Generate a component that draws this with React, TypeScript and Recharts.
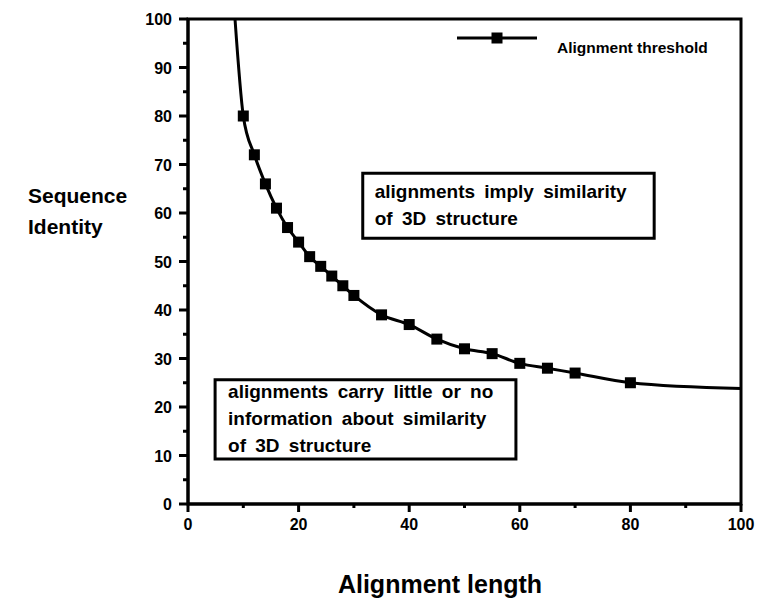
import { LineChart, Line, XAxis, YAxis, ReferenceArea, Legend } from 'recharts';

// alignment length (residues) vs. sequence identity (%) threshold curve
const lengths = [8.5, 10, 12, 14, 16, 18, 20, 22, 24, 26, 28, 30, 35, 40, 45, 50, 55, 60, 65, 70, 80, 100];
const identity = [100, 80, 72, 66, 61, 57, 54, 51, 49, 47, 45, 43, 39, 37, 34, 32, 31, 29, 28, 27, 25, 23.8];

const xTicks = [0, 10, 20, 30, 40, 50, 60, 70, 80, 90, 100];
const xLabels = [0, 20, 40, 60, 80, 100];
const yTicks = [0, 5, 10, 15, 20, 25, 30, 35, 40, 45, 50, 55, 60, 65, 70, 75, 80, 85, 90, 95, 100];
const yLabels = [0, 10, 20, 30, 40, 50, 60, 70, 80, 90, 100];

const upperNote = ['alignments imply similarity', 'of 3D structure'];
const lowerNote = ['alignments carry little or no', 'information about similarity', 'of 3D structure'];

const data = lengths.map((len, i) => ({ len, id: identity[i] }));

const FONT = '"Liberation Sans", Arial, sans-serif';

function Marker({ cx, cy }: { cx: number; cy: number }) {
  return <rect x={cx - 5.5} y={cy - 5.5} width={11} height={11} fill="#000" />;
}

const renderDot = (props: any) => {
  const { cx, cy, index } = props;
  if (index === 0 || index === lengths.length - 1) return <g key={`d${index}`} />;
  return <Marker key={`d${index}`} cx={cx} cy={cy} />;
};

function XTick(props: any) {
  const { x, y, payload } = props;
  const major = xLabels.includes(payload.value);
  return (
    <g>
      <line x1={x} x2={x} y1={y} y2={y + (major ? 8 : 4)} stroke="#000" strokeWidth={3} />
      {major && (
        <text x={x} y={y + 26} textAnchor="middle" fontFamily={FONT} fontWeight="bold" fontSize={16} fill="#000">
          {payload.value}
        </text>
      )}
    </g>
  );
}

function YTick(props: any) {
  const { x, y, payload } = props;
  const major = yLabels.includes(payload.value);
  return (
    <g>
      <line x1={x - (major ? 9 : 5)} x2={x} y1={y} y2={y} stroke="#000" strokeWidth={3} />
      {major && (
        <text x={x - 16} y={y + 6} textAnchor="end" fontFamily={FONT} fontWeight="bold" fontSize={16} fill="#000">
          {payload.value}
        </text>
      )}
    </g>
  );
}

function noteLabel(lines: string[], padX: number, firstBase: number) {
  return (props: any) => {
    const { x, y } = props.viewBox;
    return (
      <text fontFamily={FONT} fontWeight="bold" fontSize={19} fill="#000" style={{ wordSpacing: 4 }}>
        {lines.map((t, i) => (
          <tspan key={i} x={x + padX} y={y + firstBase + i * 27}>
            {t}
          </tspan>
        ))}
      </text>
    );
  };
}

function ThresholdLegend(props: any) {
  const name = props.payload && props.payload[0] ? props.payload[0].value : '';
  return (
    <svg width={300} height={34}>
      <line x1={2} x2={82} y1={12} y2={12} stroke="#000" strokeWidth={3} />
      <Marker cx={42} cy={12} />
      <text x={102} y={27} fontFamily={FONT} fontWeight="bold" fontSize={15.5} fill="#000">
        {name}
      </text>
    </svg>
  );
}

export default function App() {
  return (
    <div style={{ position: 'absolute', left: 0, top: 0, width: 759, height: 602, background: '#fff' }}>
      <LineChart width={759} height={602} data={data} margin={{ top: 19, right: 18, bottom: 0, left: 0 }}>
        <XAxis
          dataKey="len"
          type="number"
          domain={[0, 100]}
          ticks={xTicks}
          interval={0}
          height={98}
          tickSize={0}
          tickMargin={0}
          tickLine={false}
          axisLine={{ stroke: '#000', strokeWidth: 3 }}
          tick={<XTick />}
          label={() => (
            <text x={440} y={593} textAnchor="middle" fontFamily={FONT} fontWeight="bold" fontSize={25} fill="#000">
              Alignment length
            </text>
          )}
        />
        <YAxis
          type="number"
          domain={[0, 100]}
          ticks={yTicks}
          interval={0}
          width={188}
          tickSize={0}
          tickMargin={0}
          tickLine={false}
          axisLine={{ stroke: '#000', strokeWidth: 3 }}
          tick={<YTick />}
          label={() => (
            <text fontFamily={FONT} fontWeight="bold" fontSize={21} fill="#000">
              <tspan x={28} y={203}>Sequence</tspan>
              <tspan x={28} y={234}>Identity</tspan>
            </text>
          )}
        />
        <ReferenceArea x1={0} x2={100} y1={0} y2={100} fill="none" stroke="#000" strokeWidth={3} />
        <ReferenceArea
          x1={31.6}
          x2={84.3}
          y1={54.8}
          y2={68.2}
          fill="#fff"
          fillOpacity={1}
          stroke="#000"
          strokeWidth={3}
          label={noteLabel(upperNote, 12, 25)}
        />
        <ReferenceArea
          x1={4.9}
          x2={59.3}
          y1={9.3}
          y2={25.6}
          fill="#fff"
          fillOpacity={1}
          stroke="#000"
          strokeWidth={3}
          label={noteLabel(lowerNote, 13, 18)}
        />
        <Legend
          layout="vertical"
          align="center"
          verticalAlign="middle"
          content={<ThresholdLegend />}
          wrapperStyle={{ left: 455, top: 26, width: 300, height: 34 }}
        />
        <Line
          type="monotone"
          dataKey="id"
          name="Alignment threshold"
          stroke="#000"
          strokeWidth={3}
          dot={renderDot}
          activeDot={false}
          isAnimationActive={false}
        />
      </LineChart>
    </div>
  );
}
